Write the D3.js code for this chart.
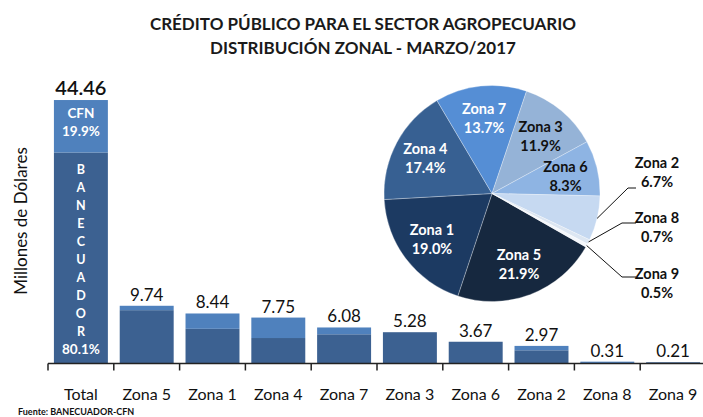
<!DOCTYPE html>
<html>
<head>
<meta charset="utf-8">
<script src="https://cdn.jsdelivr.net/npm/d3@7"></script>
<style>
  html, body { margin: 0; padding: 0; background: #fff; }
  svg { display: block; font-family: Lato, "Open Sans", sans-serif; }
</style>
</head>
<body>
<svg id="chart" width="703" height="417"></svg>
<script>
// ---- DATA ----
const titleLines = ["CRÉDITO PÚBLICO PARA EL SECTOR AGROPECUARIO", "DISTRIBUCIÓN ZONAL - MARZO/2017"];
const categories = ["Total", "Zona 5", "Zona 1", "Zona 4", "Zona 7", "Zona 3", "Zona 6", "Zona 2", "Zona 8", "Zona 9"];
const totals      = [44.46, 9.74, 8.44, 7.75, 6.08, 5.28, 3.67, 2.97, 0.31, 0.21];
const banecuador  = [35.61, 9.00, 5.85, 4.30, 4.93, 5.28, 3.67, 2.23, 0.00, 0.21];
const cfn         = [8.85, 0.74, 2.59, 3.45, 1.15, 0.00, 0.00, 0.74, 0.31, 0.00];
const totalShares = ["19.9%", "80.1%"]; // CFN, BANECUADOR
const yAxisTitle = "Millones de Dólares";
const source = "Fuente: BANECUADOR-CFN";

const pieZones  = ["Zona 5", "Zona 1", "Zona 4", "Zona 7", "Zona 3", "Zona 6", "Zona 2", "Zona 8", "Zona 9"];
const pieShares = [21.9, 19.0, 17.4, 13.7, 11.9, 8.3, 6.7, 0.7, 0.5];
const pieColors = ["#16283f", "#1c3a62", "#376092", "#558ed5", "#95b3d7", "#8eb4e3", "#c6d9f1", "#dce6f2", "#f4f7fb"];
const outsideZones = ["Zona 2", "Zona 8", "Zona 9"];

// ---- CHART ----
const svg = d3.select("#chart");
const darkBar = "#3c6191";
const lightBar = "#4f81bd";

// Title
svg.selectAll("text.title").data(titleLines).join("text")
  .attr("class", "title")
  .attr("x", 363).attr("y", (d, i) => 30 + i * 24)
  .attr("text-anchor", "middle")
  .attr("font-weight", "bold").attr("font-size", 17)
  .attr("fill", "#1a1a1a")
  .text(d => d);

// Scales
const x = d3.scaleBand().domain(categories).range([48, 706]).paddingInner(0.18).paddingOuter(0.09);
const y = d3.scaleLinear().domain([0, 50]).range([363.5, 67.2]);

const rows = categories.map((c, i) => ({ c, total: totals[i], ban: banecuador[i], cfn: cfn[i] }));

// Banecuador (dark) bars
svg.append("g").selectAll("rect").data(rows).join("rect")
  .attr("x", d => x(d.c)).attr("width", x.bandwidth())
  .attr("y", d => y(d.ban)).attr("height", d => y(0) - y(d.ban))
  .attr("fill", darkBar);
// CFN (light) bars stacked
svg.append("g").selectAll("rect").data(rows).join("rect")
  .attr("x", d => x(d.c)).attr("width", x.bandwidth())
  .attr("y", d => y(d.ban + d.cfn)).attr("height", d => y(d.ban) - y(d.ban + d.cfn))
  .attr("fill", lightBar);

// Value labels
svg.append("g").selectAll("text").data(rows).join("text")
  .attr("x", d => x(d.c) + x.bandwidth() / 2)
  .attr("y", d => y(d.total) - 5)
  .attr("text-anchor", "middle")
  .attr("font-size", d => d.c === "Total" ? 20 : 17)
  .attr("font-weight", d => d.c === "Total" ? 600 : "normal")
  .attr("fill", "#111")
  .text(d => d.total.toFixed(2));

// Labels inside Total bar
const tx = x("Total") + x.bandwidth() / 2;
const inside = svg.append("g").attr("fill", "#fff").attr("font-weight", "bold").attr("font-size", 13.5).attr("text-anchor", "middle");
inside.append("text").attr("x", tx).attr("y", y(totals[0]) + 18).text("CFN");
inside.append("text").attr("x", tx).attr("y", y(totals[0]) + 36).text(totalShares[0]);
const letters = "BANECUADOR".split("");
inside.selectAll("text.l").data(letters).join("text").attr("class", "l")
  .attr("x", tx).attr("y", (d, i) => y(banecuador[0]) + 22 + i * 18)
  .attr("font-size", 12.5)
  .text(d => d);
inside.append("text").attr("x", tx).attr("y", y(banecuador[0]) + 22 + letters.length * 18).text(totalShares[1]);

// Axis
const axis = svg.append("g").attr("stroke", "#222").attr("stroke-width", 1.5);
axis.append("line").attr("x1", 48).attr("x2", 706).attr("y1", y(0)).attr("y2", y(0));
const step = x.step();
const bounds = categories.map(c => x(c) - step * 0.09);
axis.selectAll("line.t").data(bounds.concat([x(categories[categories.length - 1]) + x.bandwidth() + step * 0.09])).join("line")
  .attr("class", "t")
  .attr("x1", d => d).attr("x2", d => d).attr("y1", y(0)).attr("y2", y(0) + 7);

svg.append("g").selectAll("text").data(categories).join("text")
  .attr("x", d => x(d) + x.bandwidth() / 2).attr("y", 400)
  .attr("text-anchor", "middle").attr("font-size", 16).attr("fill", "#111")
  .text(d => d);

// Y axis title
svg.append("text")
  .attr("transform", "translate(27,221) rotate(-90)")
  .attr("text-anchor", "middle").attr("font-size", 17).attr("fill", "#111")
  .text(yAxisTitle);

// Source
svg.append("text").attr("x", 18).attr("y", 415)
  .attr("font-size", 9).attr("font-weight", "bold").attr("fill", "#111")
  .text(source);

// ---- PIE ----
const cx = 492, cy = 193.5, R = 108;
const start = 119.7 * Math.PI / 180;
const pie = d3.pie().sort(null).startAngle(start).endAngle(start + 2 * Math.PI);
const arcs = pie(pieShares).map((a, i) => Object.assign(a, { zone: pieZones[i], color: pieColors[i], share: pieShares[i] }));
const arc = d3.arc().innerRadius(0).outerRadius(R);
const labelArc = d3.arc().innerRadius(R * 0.7).outerRadius(R * 0.7);

const pg = svg.append("g").attr("transform", `translate(${cx},${cy})`);
pg.selectAll("path").data(arcs).join("path")
  .attr("d", arc).attr("fill", d => d.color)
  .attr("stroke", "#fff").attr("stroke-width", 0.3);

const darkSet = new Set(["Zona 5", "Zona 1", "Zona 4", "Zona 7"]);
const insideArcs = arcs.filter(d => !outsideZones.includes(d.zone));
const il = pg.selectAll("g.il").data(insideArcs).join("g").attr("class", "il")
  .attr("transform", d => `translate(${labelArc.centroid(d)})`)
  .attr("text-anchor", "middle").attr("font-weight", "bold").attr("font-size", 14.5)
  .attr("fill", d => darkSet.has(d.zone) ? "#fff" : "#111");
il.append("text").attr("y", -4).text(d => d.zone);
il.append("text").attr("y", 15).text(d => d.share.toFixed(1) + "%");

// Outside labels with leader lines (layout positions)
const outLayout = { "Zona 2": { ly: 168, ex: 628, ey: 188 }, "Zona 8": { ly: 223, ex: 622, ey: 223 }, "Zona 9": { ly: 279, ex: 622, ey: 277 } };
const outArcs = arcs.filter(d => outsideZones.includes(d.zone));
const og = svg.append("g");
outArcs.forEach(d => {
  const L = outLayout[d.zone];
  const mid = (d.startAngle + d.endAngle) / 2;
  const px = cx + R * Math.sin(mid), py = cy - R * Math.cos(mid);
  og.append("polyline")
    .attr("points", `${px},${py} ${L.ex},${L.ey} ${636},${L.ey}`)
    .attr("fill", "none").attr("stroke", "#111").attr("stroke-width", 1);
  const t = og.append("g").attr("text-anchor", "middle").attr("font-weight", "bold").attr("font-size", 14.5).attr("fill", "#111");
  t.append("text").attr("x", 657).attr("y", L.ly).text(d.zone);
  t.append("text").attr("x", 657).attr("y", L.ly + 19).text(d.share.toFixed(1) + "%");
});
</script>
</body>
</html>
